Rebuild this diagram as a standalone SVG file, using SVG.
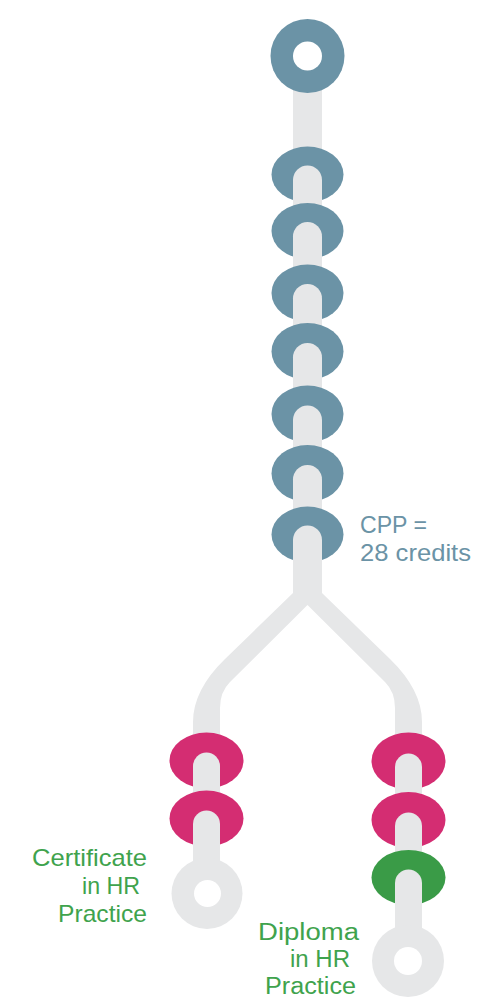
<svg xmlns="http://www.w3.org/2000/svg" width="503" height="999" viewBox="0 0 503 999">
<style>
.track{fill:#e6e7e8}
.hole{fill:#ffffff}
.blue{fill:#6b93a6}
.pink{fill:#d42d72}
.green{fill:#3a9b47}
.lbl{font-family:"Liberation Sans","Open Sans",sans-serif;font-size:24px}
.sm{font-size:23.5px}
.lblBlue{fill:#6b93a6}
.lblGreen{fill:#3fa34d}
</style>
<defs>
<path id="arch" d="M-14.5,38 V0 A14.5,14.5 0 0 1 14.5,0 V38 Z"/>
<path id="archN" d="M-13.5,38 V0 A13.5,13.5 0 0 1 13.5,0 V38 Z"/>
</defs>
<g id="connectors">
<rect class="track" x="293" y="70" width="29" height="500"/>
<path class="track" d="M293,560 L293,593 L225,659 Q193,690 193,722 L193,900 L220,900 L220,708 Q220,692 230,682 L307.5,605 L385,682 Q395,692 395,708 L395,965 L422,965 L422,722 Q422,690 390,659 L322,593 L322,560 Z"/>
</g>
<g id="start">
<circle class="blue" cx="307.5" cy="56" r="37"/>
<circle class="hole" cx="307.5" cy="56" r="14.5"/>
</g>
<g id="cpp-bead-1"><ellipse class="blue" cx="307.5" cy="174.5" rx="36" ry="28"/><use href="#arch" class="track" x="307.5" y="180"/></g>
<g id="cpp-bead-2"><ellipse class="blue" cx="307.5" cy="231" rx="36" ry="28"/><use href="#arch" class="track" x="307.5" y="236.5"/></g>
<g id="cpp-bead-3"><ellipse class="blue" cx="307.5" cy="293" rx="36" ry="28.5"/><use href="#arch" class="track" x="307.5" y="298.5"/></g>
<g id="cpp-bead-4"><ellipse class="blue" cx="307.5" cy="351.5" rx="36" ry="28.5"/><use href="#arch" class="track" x="307.5" y="357.5"/></g>
<g id="cpp-bead-5"><ellipse class="blue" cx="307.5" cy="414" rx="36" ry="28.5"/><use href="#arch" class="track" x="307.5" y="420"/></g>
<g id="cpp-bead-6"><ellipse class="blue" cx="307.5" cy="473.5" rx="36" ry="28.5"/><use href="#arch" class="track" x="307.5" y="479.5"/></g>
<g id="cpp-bead-7"><ellipse class="blue" cx="307.5" cy="534.5" rx="36" ry="28"/><use href="#arch" class="track" x="307.5" y="540"/></g>
<g id="cpp-label">
<text class="lbl lblBlue" x="360" y="533" textLength="67" lengthAdjust="spacingAndGlyphs">CPP =</text>
<text class="lbl lblBlue" x="360" y="561" textLength="111" lengthAdjust="spacingAndGlyphs">28 credits</text>
</g>
<g id="cert-bead-1"><ellipse class="pink" cx="206.5" cy="760.5" rx="37" ry="28"/><use href="#archN" class="track" x="206.5" y="766"/></g>
<g id="cert-bead-2"><ellipse class="pink" cx="206.5" cy="818.5" rx="37" ry="28"/><use href="#archN" class="track" x="206.5" y="824"/></g>
<g id="cert-end">
<circle class="track" cx="207" cy="893.5" r="35.5"/>
<circle class="hole" cx="207.5" cy="893.5" r="13.5"/>
</g>
<g id="cert-label">
<text class="lbl lblGreen" x="32" y="866" textLength="115" lengthAdjust="spacingAndGlyphs">Certificate</text>
<text class="lbl lblGreen" x="82" y="894" textLength="58" lengthAdjust="spacingAndGlyphs">in HR</text>
<text class="lbl lblGreen" x="58" y="922" textLength="89" lengthAdjust="spacingAndGlyphs">Practice</text>
</g>
<g id="dip-bead-1"><ellipse class="pink" cx="408.5" cy="761" rx="37" ry="28.5"/><use href="#archN" class="track" x="408.5" y="767"/></g>
<g id="dip-bead-2"><ellipse class="pink" cx="408.5" cy="820" rx="37" ry="28"/><use href="#archN" class="track" x="408.5" y="826"/></g>
<g id="dip-bead-3"><ellipse class="green" cx="408.5" cy="877.5" rx="37" ry="27.5"/><use href="#archN" class="track" x="408.5" y="883"/></g>
<g id="dip-end">
<circle class="track" cx="408" cy="961" r="36"/>
<circle class="hole" cx="408" cy="961" r="14"/>
</g>
<g id="dip-label">
<text class="lbl sm lblGreen" x="258" y="939.5" textLength="101" lengthAdjust="spacingAndGlyphs">Diploma</text>
<text class="lbl sm lblGreen" x="290" y="966.5" textLength="60" lengthAdjust="spacingAndGlyphs">in HR</text>
<text class="lbl sm lblGreen" x="265" y="993.5" textLength="91" lengthAdjust="spacingAndGlyphs">Practice</text>
</g>
</svg>
